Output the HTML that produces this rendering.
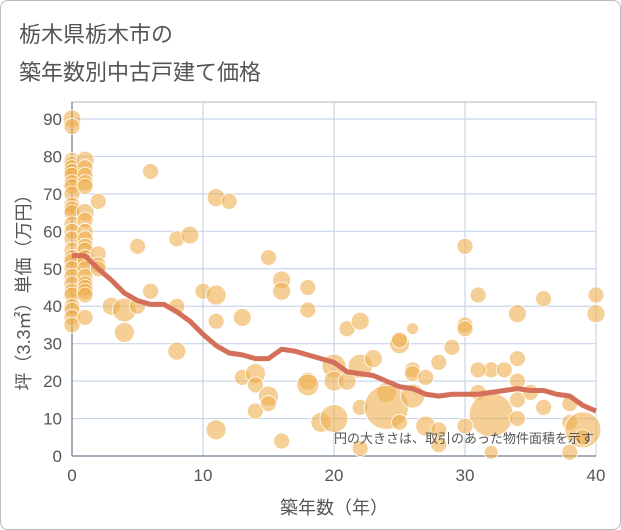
<!DOCTYPE html>
<html><head><meta charset="utf-8">
<style>
body{margin:0;background:#fff;font-family:"Liberation Sans","Noto Sans CJK JP",sans-serif;}
#wrap{position:relative;width:619px;height:528px;border:1px solid #bbb;border-radius:8px;overflow:hidden;background:#fff;}
.t{position:absolute;left:18px;font-size:22px;color:#555;}
</style></head><body>
<div id="wrap">
<div class="t" style="top:16px">栃木県栃木市の</div>
<div class="t" style="top:54px">築年数別中古戸建て価格</div>
<svg id="c" width="621" height="530" style="position:absolute;left:-1px;top:-1px"></svg>
</div>
<script>
const xTicks=[0,10,20,30,40];
const yTicks=[0,10,20,30,40,50,60,70,80,90];
const trendYears=[0,1,2,3,4,5,6,7,8,9,10,11,12,13,14,15,16,17,18,19,20,21,22,23,24,25,26,27,28,29,30,31,32,33,34,35,36,37,38,39,40];
const trendValues=[53.5,53.5,50,47,43.5,41.5,40.5,40.5,38.5,36,32.5,29.5,27.5,27,26,26,28.5,28,27,26,25,22.5,22,21.5,20,18.5,18,16.5,16,16.5,16.5,16.5,17,17.5,18,17.5,17.5,16.5,16,13.5,12];
const bubbleYears=[0,0,0,0,0,0,0,0,0,0,0,0,0,0,0,0,0,0,0,0,0,0,0,0,0,0,0,0,
1,1,1,1,1,1,1,1,1,1,1,1,1,1,1,1,1,1,1,1,2,2,2,2,
3,4,4,5,5,6,6,8,8,8,9,10,11,11,11,11,12,13,13,14,14,14,15,15,15,16,16,16,18,18,18,18,19,20,20,20,21,21,22,22,22,22,23,24,24,25,25,25,26,26,26,26,27,28,28,29,30,30,30,31,31,32,32,33,34,34,34,34,34,35,36,36,38,38,38,39,40,40,39,27,28,30,32,31];
const bubbleValues=[90,88,79,78,77,76,75,73,72,70,67,66,65,62,60,58,55,53,52,50,48,46,44,43,40,39,37,35,
79,77,75,73,72,65,63,60,58,56,55,53,52,50,48,46,45,44,43,37,68,54,51,50,
40,39,33,56,40,76,44,58,40,28,59,44,69,43,36,7,68,37,21,22,12,19,53,16,14,47,44,4,45,39,20,19,9,24,20,10,20,34,24,36,13,2,26,17,13,30,31,9,34,23,22,16,21,25,3,29,56,35,34,43,17,11,23,23,38,26,20,15,10,17,42,13,14,9,1,7,43,38,5,8,7,8,1,23];
const bubbleSizes=[9,8,8,8,8,8,8,8,8,8,8,8,8,8,8,8,8,8,8,8,8,8,8,8,8,8,8,8,
9,8,8,8,8,9,8,8,8,8,8,8,8,8,8,8,8,8,8,8,8,8,8,8,
9,12,10,8,8,8,8,8,8,9,9,8,9,10,8,10,8,9,8,10,8,8,8,10,8,9,9,8,8,8,9,11,10,12,10,14,9,8,12,9,8,8,9,10,22,10,8,8,6,8,8,12,8,8,8,8,8,8,8,8,8,22,8,8,9,8,8,8,8,8,8,8,8,8,8,18,8,9,8,10,8,8,7,8];
const NS="http://www.w3.org/2000/svg";
const svg=document.getElementById('c');
const L=72,R=596,T=102,B=456;
const xs=v=>L+(R-L)*v/40, ys=v=>B-(456-119)*v/90;
function mk(t,a){const e=document.createElementNS(NS,t);for(const k in a)e.setAttribute(k,a[k]);svg.appendChild(e);return e;}
const bg=mk('rect',{x:L,y:T,width:R-L,height:B-T,fill:'#fff',stroke:'#aab4c0'});


yTicks.forEach(v=>{
 const g=mk('line',{x1:L,x2:R,y1:ys(v),y2:ys(v),stroke:'#c8d6ea','stroke-width':1.2});
 
 
 const t=mk('text',{x:62,y:ys(v)+6,'text-anchor':'end','font-size':17,fill:'#555'});
 t.textContent=v;
 
 
});
xTicks.forEach(v=>{
 const g=mk('line',{x1:xs(v),x2:xs(v),y1:T,y2:B,stroke:'#c8d6ea','stroke-width':1.2});
 
 
 const t=mk('text',{x:xs(v),y:481,'text-anchor':'middle','font-size':17,fill:'#555'});
 t.textContent=v;
 
 
});
mk('line',{x1:L,x2:L,y1:T,y2:B,stroke:'#8a96a4','stroke-width':1.5});
mk('line',{x1:L,x2:R,y1:B,y2:B,stroke:'#8a96a4','stroke-width':1.5});
bubbleYears.forEach((yr,i)=>{
 const c=mk('circle',{cx:xs(yr),cy:ys(bubbleValues[i]),r:bubbleSizes[i],fill:'rgba(238,175,80,0.6)',stroke:'#fff','stroke-width':0.8});
 
 
});
const p=mk('polyline',{points:trendYears.map((y,i)=>xs(y)+','+ys(trendValues[i])).join(' '),fill:'none',stroke:'#d4705a','stroke-width':5,'stroke-linejoin':'round'});


const n=mk('text',{x:594,y:443,'text-anchor':'end','font-size':13,fill:'#555'});
n.textContent='円の大きさは、取引のあった物件面積を示す';


const xt=mk('text',{x:334,y:514,'text-anchor':'middle','font-size':18,fill:'#555'});
xt.textContent='築年数（年）';


const yt=mk('text',{x:30,y:288,'text-anchor':'middle','font-size':18,fill:'#555',transform:'rotate(-90 30 288)'});
yt.textContent='坪（3.3㎡）単価（万円）';


</script>
</body></html>
